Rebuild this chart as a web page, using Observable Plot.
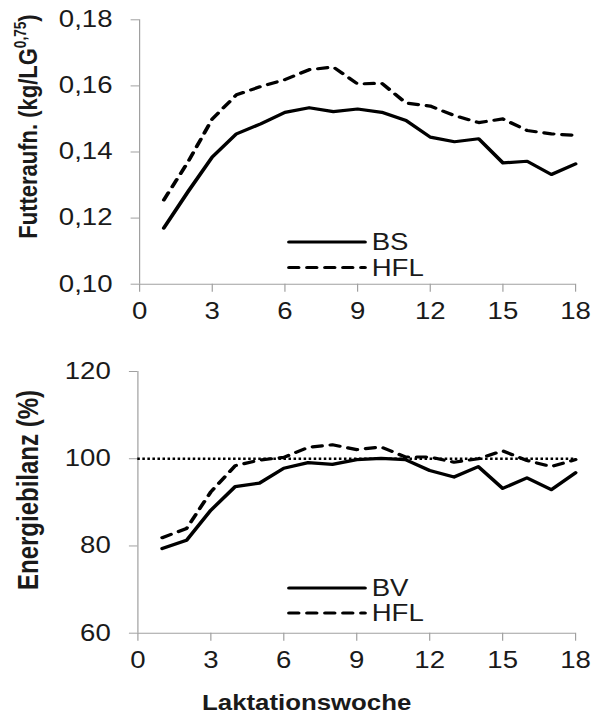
<!DOCTYPE html>
<html><head><meta charset="utf-8">
<script src="https://cdn.jsdelivr.net/npm/d3@7"></script>
<script src="https://cdn.jsdelivr.net/npm/@observablehq/plot@0.6"></script>
<style>
html,body{margin:0;padding:0;background:#fff;}
body{width:602px;height:715px;overflow:hidden;font-family:"Liberation Sans",Arial,sans-serif;}
#chart svg{display:block;transform:scaleX(1.2);transform-origin:0 0;max-width:none;}
</style></head><body><div id="chart"></div><script>
// ---- data ----
const weeks = [1,2,3,4,5,6,7,8,9,10,11,12,13,14,15,16,17,18];
const xTicks = [0,3,6,9,12,15,18];

const futterSeries = ["BS", "HFL"];
const futterBS  = [0.117,0.128,0.1385,0.1455,0.1485,0.152,0.1534,0.1522,0.153,0.152,0.1495,0.1445,0.1431,0.144,0.1367,0.1372,0.1332,0.1364];
const futterHFL = [0.1255,0.137,0.150,0.1573,0.1598,0.1619,0.1649,0.1657,0.1606,0.1608,0.1548,0.1539,0.151,0.1489,0.150,0.1465,0.1455,0.145];
const futterTicks = [0.10,0.12,0.14,0.16,0.18];
const futterTitle = "Futteraufn. (kg/LG";
const futterTitleSup = "0,75";

const energySeries = ["BV", "HFL"];
const energyBV  = [79.4,81.3,88.2,93.6,94.4,97.8,99.1,98.7,99.8,100.1,99.8,97.3,95.8,98.2,93.2,95.6,92.9,96.8];
const energyHFL = [81.9,84.0,92.4,98.4,99.7,100.3,102.6,103.2,102.1,102.7,100.4,100.4,99.2,100.0,101.8,99.6,98.2,99.8];
const energyTicks = [60,80,100,120];
const energyRef = [100];
const energyTitle = "Energiebilanz (%)";
const xTitle = "Laktationswoche";

// ---- layout ----
const S = 1.2;              // horizontal stretch of the original picture
const W = 602 / S;
const axisColor = "#a0a0a0";
const textColor = "#1a1a1a";
const font = "Liberation Sans, Arial, sans-serif";
const dashed = "8,7";
const lineW = 3.2;

function rows(series, a, b) {
  return weeks.flatMap((w, i) => [
    {week: w, value: a[i], series: series[0]},
    {week: w, value: b[i], series: series[1]}
  ]);
}

function chart({data, series, yDomain, yTicks, yFmt, height, mt, mb, ml, ref}) {
  const marks = [
    Plot.ruleY([yDomain[0]], {stroke: axisColor, strokeWidth: 1.1}),
    Plot.ruleX([0], {stroke: axisColor, strokeWidth: 1}),
    Plot.axisX({ticks: xTicks, tickSize: 8, tickPadding: 10.5, stroke: axisColor, fill: textColor, fontSize: 23, label: null}),
    Plot.axisY({ticks: yTicks, tickSize: 7, tickPadding: 15.6, tickFormat: yFmt, stroke: axisColor, fill: textColor, fontSize: 23, label: null})
  ];
  if (ref) marks.push(Plot.ruleY(ref, {stroke: "#000", strokeWidth: 2.6, strokeDasharray: "2.1,2.1"}));
  marks.push(
    Plot.line(data.filter(d => d.series === series[0]), {x: "week", y: "value", stroke: "#000", strokeWidth: lineW, strokeLinejoin: "round", strokeLinecap: "round"}),
    Plot.line(data.filter(d => d.series === series[1]), {x: "week", y: "value", stroke: "#000", strokeWidth: lineW, strokeLinejoin: "round", strokeLinecap: "round", strokeDasharray: dashed})
  );
  return Plot.plot({
    width: W, height,
    marginTop: mt, marginBottom: mb, marginLeft: ml, marginRight: W - 575 / S,
    x: {domain: [0, 18]},
    y: {domain: yDomain},
    style: {fontFamily: font, background: "white", overflow: "visible"},
    marks
  });
}

function legend(svg, series, y1, y2) {
  const g = d3.select(svg).append("g");
  const x1 = 289 / S, x2 = 365 / S, tx = 371.7 / S;
  [[series[0], y1, null], [series[1], y2, dashed]].forEach(([name, y, da]) => {
    g.append("line").attr("x1", x1).attr("x2", x2).attr("y1", y).attr("y2", y)
      .attr("stroke", "#000").attr("stroke-width", lineW).attr("stroke-linecap", "round")
      .attr("stroke-dasharray", da);
    g.append("text").attr("x", tx).attr("y", y + 8.2).attr("fill", textColor)
      .attr("text-anchor", "start")
      .attr("font-family", font).attr("font-size", 23).text(name);
  });
}

function yTitle(svg, x, y, text, sup, size) {
  const t = d3.select(svg).append("text")
    .attr("transform", `translate(${x},${y}) rotate(-90)`)
    .attr("text-anchor", "middle").attr("font-family", font)
    .attr("font-weight", "bold").attr("font-size", size).attr("fill", textColor);
  t.append("tspan").text(text);
  if (sup) {
    t.append("tspan").attr("font-size", size * 0.62).attr("dy", -size * 0.42).text(sup);
    t.append("tspan").attr("dy", size * 0.42).text(")");
  }
}

const fmt2 = d => d.toFixed(2).replace(".", ",");
const fmt0 = d => String(d);

const chartTop = chart({
  data: rows(futterSeries, futterBS, futterHFL), series: futterSeries,
  yDomain: [0.10, 0.18], yTicks: futterTicks, yFmt: fmt2,
  height: 340, mt: 19.3, mb: 340 - 283.7, ml: 139 / S
});
legend(chartTop, futterSeries, 242, 267.5);
yTitle(chartTop, 30.6, 126.5, futterTitle, futterTitleSup, 22);

const chartBottom = chart({
  data: rows(energySeries, energyBV, energyHFL), series: energySeries,
  yDomain: [60, 120], yTicks: energyTicks, yFmt: fmt0,
  height: 375, mt: 371 - 340, mb: 375 - (632.7 - 340), ml: 137.3 / S, ref: energyRef
});
legend(chartBottom, energySeries, 248, 273);
yTitle(chartBottom, 31.4, 150, energyTitle, null, 24);
d3.select(chartBottom).append("text").attr("x", 306.7 / S).attr("y", 370)
  .attr("text-anchor", "middle").attr("font-family", font).attr("font-weight", "bold")
  .attr("font-size", 21.5).attr("fill", textColor).text(xTitle);

document.getElementById("chart").append(chartTop, chartBottom);
</script></body></html>
